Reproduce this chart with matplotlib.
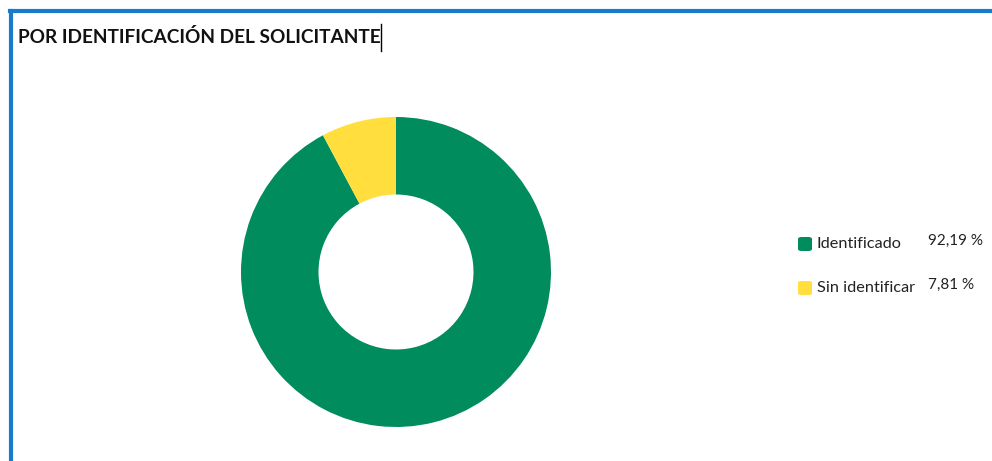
import matplotlib.pyplot as plt
from matplotlib.patches import FancyBboxPatch
from matplotlib.lines import Line2D

# data
labels = ["Identificado", "Sin identificar"]
shares = [92.19, 7.81]
colors = ["#008c5c", "#ffde3d"]
title = "POR IDENTIFICACIÓN DEL SOLICITANTE"

W, H = 992, 461
fig = plt.figure(figsize=(W / 100, H / 100), dpi=100)
plt.rcParams['font.family'] = ['Lato', 'DejaVu Sans']

def fx(px):
    return px / W

def fy(py):
    return 1 - py / H

# blue frame (top and left edges visible)
border = "#1b7bcb"
fig.add_artist(Line2D([fx(10), 1], [fy(11), fy(11)], color=border, lw=3, transform=fig.transFigure))
fig.add_artist(Line2D([fx(10.5), fx(10.5)], [fy(11), 0], color=border, lw=3, transform=fig.transFigure))

fig.text(fx(18), fy(37), title, fontsize=13.7, fontweight='bold', color='#111111', va='center', ha='left')
fig.add_artist(Line2D([fx(381), fx(381)], [fy(24), fy(51)], color='black', lw=1, transform=fig.transFigure))

# donut
cx, cy, r = 396, 272, 155
half = 160
ax = fig.add_axes([fx(cx - half), fy(cy + half), (2 * half) / W, (2 * half) / H])
ax.pie(shares, colors=colors, startangle=90, counterclock=False,
       wedgeprops=dict(width=0.5, edgecolor='none'))
lim = half / r
ax.set_xlim(-lim, lim)
ax.set_ylim(-lim, lim)
ax.set_aspect('equal')
ax.axis('off')

# legend
rows_y = [244, 288]
for lab, val, col, yy in zip(labels, shares, colors, rows_y):
    box = FancyBboxPatch((fx(798), fy(yy + 7)), fx(14), 14 / H,
                         boxstyle="round,pad=0,rounding_size=0.004",
                         transform=fig.transFigure, facecolor=col, edgecolor='none')
    fig.add_artist(box)
    fig.text(fx(817), fy(yy), lab, fontsize=11.7, color='#222222', va='center', ha='left')
    fig.text(fx(928), fy(yy - 3), f"{val:.2f}".replace('.', ',') + " %", fontsize=11,
             color='#222222', va='center', ha='left')

fig.savefig("out.png", dpi=100)
